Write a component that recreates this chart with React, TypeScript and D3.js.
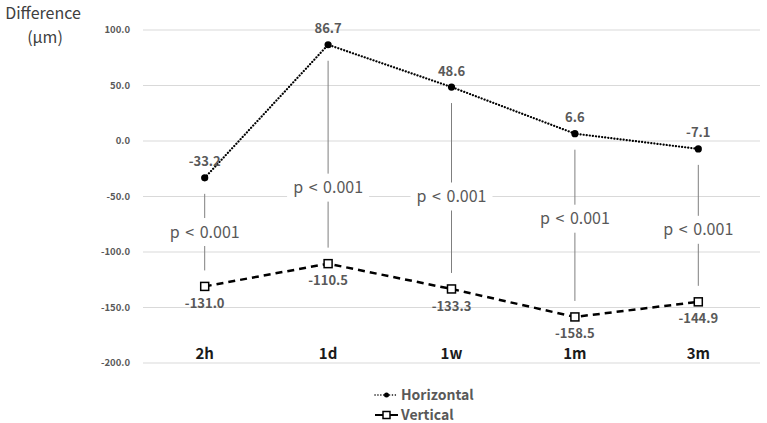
import React from "react";
import * as d3 from "d3";

const categories = ["2h", "1d", "1w", "1m", "3m"];
const horizontal = [-33.2, 86.7, 48.6, 6.6, -7.1];
const vertical = [-131.0, -110.5, -133.3, -158.5, -144.9];
const yTicks = [100, 50, 0, -50, -100, -150, -200];
// where each "p < 0.001" note sits, in µm
const pLabelAt = [-82, -42, -50, -70, -80];
const pText = "p < 0.001";

const W = 767;
const H = 423;
const font = "'Noto Sans CJK JP', 'Noto Sans', sans-serif";
const gray = "#595959";

export default function App() {
  const x = d3.scaleBand<string>().domain(categories).range([143, 760]);
  const y = d3.scaleLinear().domain([-200, 100]).range([363, 30]);
  const cx = (c: string) => (x(c) as number) + x.bandwidth() / 2;

  const line = d3
    .line<number>()
    .x((_, i) => cx(categories[i]))
    .y((v) => y(v));

  const gap = 16;

  return (
    <svg width={W} height={H} style={{ position: "absolute", left: 0, top: 0 }}>
      <rect width={W} height={H} fill="#fff" />

      {/* axis title */}
      <text x={43} y={13} dy="0.35em" textAnchor="middle" fontFamily={font} fontSize={16} fill="#404040">
        Difference
      </text>
      <text x={45} y={37} dy="0.35em" textAnchor="middle" fontFamily={font} fontSize={16} fill="#404040">
        (μm)
      </text>

      {/* grid + tick labels */}
      {yTicks.map((t) => (
        <g key={t}>
          <line x1={143} x2={760} y1={y(t)} y2={y(t)} stroke="#d9d9d9" strokeWidth={1} />
          <text
            x={130}
            y={y(t)}
            dy="0.35em"
            textAnchor="end"
            fontFamily={font}
            fontSize={9.5}
            fontWeight="bold"
            fill={gray}
          >
            {t.toFixed(1)}
          </text>
        </g>
      ))}

      {/* category labels */}
      {categories.map((c) => (
        <text
          key={c}
          x={cx(c)}
          y={354}
          dy="0.35em"
          textAnchor="middle"
          fontFamily={font}
          fontSize={15}
          fontWeight="bold"
          fill="#1a1a1a"
        >
          {c}
        </text>
      ))}

      {/* significance connectors */}
      {categories.map((c, i) => {
        const top = y(horizontal[i]) + gap;
        const bot = y(vertical[i]) - gap;
        const ly = y(pLabelAt[i]);
        return (
          <g key={"p" + c}>
            <line x1={cx(c)} x2={cx(c)} y1={top} y2={bot} stroke="#7f7f7f" strokeWidth={1} />
            <rect x={cx(c) - 41} y={ly - 14} width={82} height={28} fill="#fff" />
            <text
              x={cx(c)}
              y={ly}
              dy="0.35em"
              textAnchor="middle"
              fontFamily={font}
              fontSize={16}
              wordSpacing={2}
              fill={gray}
            >
              {pText}
            </text>
          </g>
        );
      })}

      {/* Horizontal series */}
      <path
        d={line(horizontal) ?? ""}
        fill="none"
        stroke="#000"
        strokeWidth={2.2}
        strokeDasharray="0.1 3"
        strokeLinecap="round"
      />
      {horizontal.map((v, i) => (
        <g key={"h" + i}>
          <circle cx={cx(categories[i])} cy={y(v)} r={3.6} fill="#000" />
          <text
            x={cx(categories[i])}
            y={y(v) - 16}
            dy="0.35em"
            textAnchor="middle"
            fontFamily={font}
            fontSize={13}
            fontWeight="bold"
            fill={gray}
          >
            {v.toFixed(1)}
          </text>
        </g>
      ))}

      {/* Vertical series */}
      <path
        d={line(vertical) ?? ""}
        fill="none"
        stroke="#000"
        strokeWidth={2.5}
        strokeDasharray="7 5"
      />
      {vertical.map((v, i) => (
        <g key={"v" + i}>
          <rect
            x={cx(categories[i]) - 4}
            y={y(v) - 4}
            width={8}
            height={8}
            fill="#fff"
            stroke="#000"
            strokeWidth={1.5}
          />
          <text
            x={cx(categories[i])}
            y={y(v) + 17}
            dy="0.35em"
            textAnchor="middle"
            fontFamily={font}
            fontSize={13}
            fontWeight="bold"
            fill={gray}
          >
            {v.toFixed(1)}
          </text>
        </g>
      ))}

      {/* legend */}
      <g>
        <line
          x1={375}
          x2={398}
          y1={395}
          y2={395}
          stroke="#000"
          strokeWidth={1.5}
          strokeDasharray="0.1 2.8"
          strokeLinecap="round"
        />
        <circle cx={386.5} cy={395} r={2.5} fill="#000" />
        <text x={401} y={395} dy="0.35em" fontFamily={font} fontSize={14} fontWeight="bold" fill={gray}>
          Horizontal
        </text>
        <line x1={375} x2={398} y1={415} y2={415} stroke="#000" strokeWidth={2} />
        <rect x={383} y={411.5} width={7} height={7} fill="#fff" stroke="#000" strokeWidth={1.5} />
        <text x={401} y={415} dy="0.35em" fontFamily={font} fontSize={14} fontWeight="bold" fill={gray}>
          Vertical
        </text>
      </g>
    </svg>
  );
}
